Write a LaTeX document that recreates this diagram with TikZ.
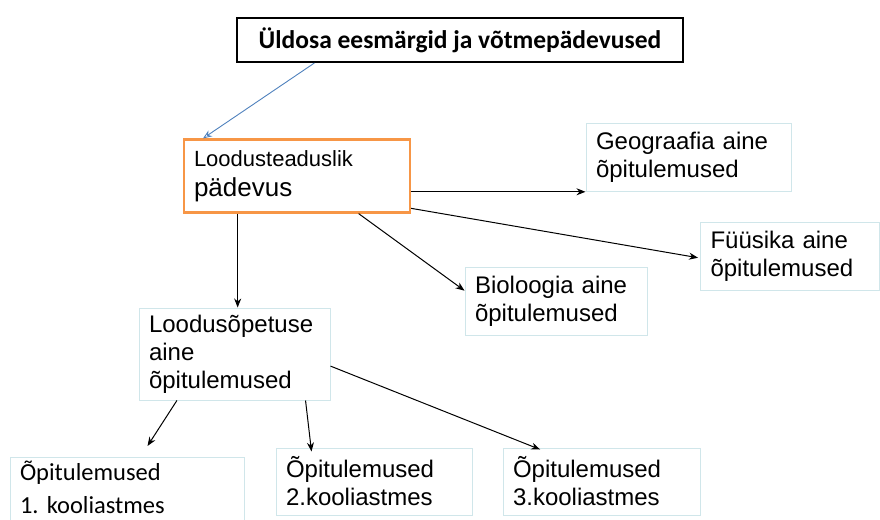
\documentclass[tikz,border=0pt]{standalone}
\usepackage{fontspec}
\setmainfont{Liberation Sans}
\newfontfamily\carlito{Carlito}
\usetikzlibrary{arrows.meta,calc}
\definecolor{boxline}{HTML}{D0E6EA}
\definecolor{orng}{HTML}{F79646}
\definecolor{blu}{HTML}{4F81BD}
\begin{document}
\begin{tikzpicture}[x=1pt,y=-1pt,
  box/.style={draw=boxline, line width=1pt, rectangle, align=left, inner xsep=10pt, inner ysep=0pt,
    font=\fontsize{24}{28}\selectfont},
  arr/.style={-{Stealth[length=9pt,width=7pt]}, line width=1pt, black},
]
\useasboundingbox (0,0) rectangle (880,519);

\node[draw=black, line width=2pt, minimum width=446pt, minimum height=44pt, inner sep=0pt,
  font=\carlito\bfseries\fontsize{25.5}{30}\selectfont] (top) at (460,40) {Üldosa eesmärgid ja võtmepädevused};

\node[draw=orng, line width=2.2pt, text width=206pt, minimum height=73pt, align=left, inner xsep=10pt, inner ysep=0pt,
  font=\fontsize{26}{30}\selectfont]
  (lood) at (297,176) {{\fontsize{22}{29}\selectfont Loodusteaduslik}\\pädevus};

\node[box, text width=185pt, minimum height=68pt] (geo) at (688.5,157) {Geograafia aine\\õpitulemused};
\node[box, text width=159pt, minimum height=68pt] (fyy) at (790,256) {Füüsika aine\\õpitulemused};
\node[box, text width=162pt, minimum height=68pt] (bio) at (556,301) {Bioloogia aine\\õpitulemused};
\node[box, text width=171pt, minimum height=92pt] (lop) at (234.5,354) {Loodusõpetuse\\aine\\õpitulemused};

\node[box, anchor=north, text width=214pt, inner ysep=3pt, font=\carlito\fontsize{24.5}{33}\selectfont\frenchspacing]
  (op1) at (127,457) {Õpitulemused\\1. kooliastmes\\ \ };
\node[box, text width=176pt, minimum height=67pt] (op2) at (374,481.5) {Õpitulemused\\2.kooliastmes};
\node[box, text width=177pt, minimum height=67pt] (op3) at (601.5,481.5) {Õpitulemused\\3.kooliastmes};

% connectors
\draw[-{Stealth[length=9pt,width=7pt,open]}, blu, line width=0.9pt]
  ($(top.south west)!0.175!(top.south east)$) -- ($(lood.north west)!0.088!(lood.north east)$);
\draw[arr] ($(lood.north east)!0.71!(lood.south east)$) coordinate (a1) -- (a1 -| geo.west);
\draw[arr, shorten >=2pt] ($(lood.north east)!0.93!(lood.south east)$) -- ($(fyy.north west)!0.53!(fyy.south west)$);
\draw[arr] ($(lood.south west)!0.77!(lood.south east)$) -- ($(bio.north west)!0.35!(bio.south west)$);
\draw[arr] ($(lood.south west)!0.24!(lood.south east)$) coordinate (a2) -- (a2 |- lop.north);
\draw[arr] ($(lop.south west)!0.2!(lop.south east)$) -- ($(op1.north west)+(138,-11)$);
\draw[arr] ($(lop.south west)!0.87!(lop.south east)$) -- ($(op2.north west)+(36,4)$);
\draw[arr] ($(lop.north east)!0.63!(lop.south east)$) -- ($(op3.north west)!0.19!(op3.north east)+(0,2)$);
\end{tikzpicture}
\end{document}
